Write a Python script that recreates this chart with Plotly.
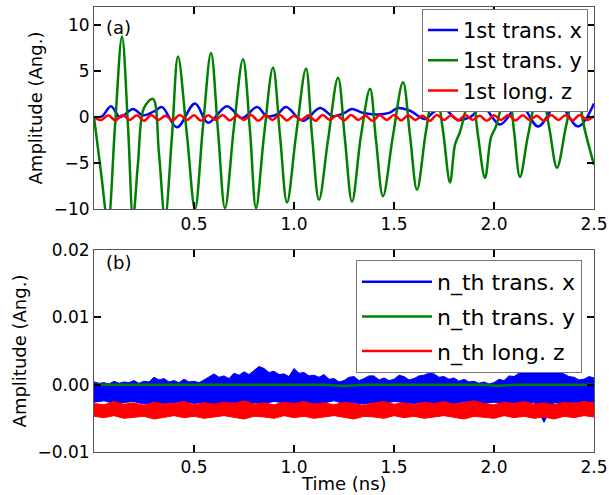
import numpy as np
import plotly.graph_objects as go

# ---------------- panel (a): 1st modes ----------------
green_t = [0.0, 0.035, 0.07, 0.105, 0.14, 0.17, 0.195, 0.22, 0.25, 0.295, 0.325, 0.355,
           0.39, 0.42, 0.465, 0.505, 0.545, 0.585, 0.62, 0.655, 0.70, 0.745, 0.78, 0.81,
           0.85, 0.895, 0.93, 0.965, 1.01, 1.06, 1.09, 1.125, 1.17, 1.22, 1.255, 1.29,
           1.335, 1.38, 1.41, 1.445, 1.495, 1.545, 1.58, 1.615, 1.66, 1.705, 1.745, 1.78,
           1.805, 1.83, 1.855, 1.885, 1.92, 1.955, 1.985, 2.01, 2.04, 2.07, 2.10, 2.13,
           2.17, 2.23, 2.275, 2.315, 2.36, 2.41, 2.45, 2.5]
green_y = [0.0, -6.0, -11.5, -1.0, 8.8, -1.0, -11.0, -5.0, 1.0, 2.0, -4.0, -11.0,
           -2.0, 6.6, -2.0, -10.0, -1.0, 7.0, -1.5, -9.9, -1.0, 6.3, -1.5, -9.9,
           -2.0, 5.4, -2.0, -9.3, -2.0, 5.3, -2.0, -9.0, -2.5, 4.3, -2.5, -9.2,
           -2.0, 3.1, -2.5, -8.6, -2.0, 3.8, -2.0, -7.9, -1.5, 3.5, -1.5, -7.1,
           -3.0, -1.6, 0.5, 3.5, -2.0, -6.6, -2.2, -1.0, 1.5, 3.5, -1.5, -6.5,
           -2.0, 3.5, -1.0, -5.5, -1.0, 3.5, -1.0, -5.2]

blue_t = [0.0, 0.04, 0.085, 0.13, 0.195, 0.245, 0.305, 0.34, 0.415, 0.505, 0.57, 0.665,
          0.74, 0.815, 0.865, 0.915, 0.96, 1.045, 1.13, 1.195, 1.255, 1.29, 1.34, 1.415,
          1.48, 1.52, 1.58, 1.655, 1.695, 1.745, 1.82, 1.88, 1.945, 2.03, 2.13, 2.22,
          2.32, 2.42, 2.5]
blue_y = [0.0, 0.1, 1.2, 0.0, 0.9, 0.2, 0.7, 1.1, -1.1, 1.5, -0.6, 1.2,
          -0.1, 1.1, 0.1, 0.3, 1.1, -0.4, 1.0, 0.1, 0.5, 0.9, 0.5, 0.3,
          0.5, 1.0, 0.7, -0.2, 0.5, 1.0, -0.3, 0.0, 1.1, -0.8, 1.4, -1.0,
          1.5, -1.0, 1.5]

red_y = [0.0, -0.3, 0.2, -0.35, 0.25, -0.3, 0.2, -0.4, 0.25, -0.3, 0.15, -0.35,
         0.25, -0.3, 0.2, -0.4, 0.2, -0.3, 0.25, -0.35, 0.15, -0.3, 0.25, -0.4,
         0.2, -0.3, 0.25, -0.35, 0.15, -0.3, 0.2, -0.4, 0.25, -0.3, 0.2, -0.35,
         0.25, -0.3, 0.15, -0.4, 0.2, -0.3, 0.25, -0.35, 0.2, -0.3, 0.15, -0.4,
         0.25, -0.3, 0.2, -0.35, 0.25, -0.3, 0.15, -0.4, 0.2, -0.3, 0.25, -0.35,
         0.2, -0.3, 0.15, -0.4, 0.25, -0.3, 0.2, -0.35, 0.25, -0.3, 0.1]
red_t = np.linspace(0.0, 2.5, len(red_y))

# ---------------- panel (b): n_th modes (noise envelopes) ----------------
nx_upper = [0.0004, 0.0002, 0.0003, 0.0001, 0.0005, 0.0002, 0.0004, 0.0003, 0.0006, 0.0002,
            0.0005, 0.0004, 0.0011, 0.0007, 0.0009, 0.0004, 0.0006, 0.0003, 0.0008, 0.0004,
            0.0005, 0.0003, 0.0007, 0.0012, 0.0016, 0.0011, 0.0013, 0.0009, 0.0017, 0.0014,
            0.0019, 0.0015, 0.0021, 0.0027, 0.0024, 0.0018, 0.0020, 0.0015, 0.0016, 0.0012,
            0.0024, 0.0017, 0.0018, 0.0013, 0.0014, 0.0011, 0.0015, 0.0008, 0.0009, 0.0004,
            0.0006, 0.0011, 0.0012, 0.0006, 0.0009, 0.0013, 0.0013, 0.0007, 0.0010, 0.0006,
            0.0008, 0.0014, 0.0012, 0.0007, 0.0009, 0.0013, 0.0014, 0.0017, 0.0016, 0.0011,
            0.0012, 0.0008, 0.0010, 0.0005, 0.0008, 0.0004, 0.0005, 0.0002, 0.0004, 0.0001,
            0.0003, 0.0008, 0.0006, 0.0013, 0.0012, 0.0017, 0.0018, 0.0022, 0.0024, 0.0029,
            0.0027, 0.0025, 0.0022, 0.0018, 0.0016, 0.0012, 0.0011, 0.0007, 0.0008, 0.0012,
            0.0010]
nx_upper_t = np.linspace(0.0, 2.5, len(nx_upper))

nx_lower = [-0.0026, -0.0024, -0.0028, -0.0027, -0.0025, -0.0029, -0.0026, -0.0028, -0.0027, -0.0025,
            -0.0028, -0.0026, -0.0029, -0.0027, -0.0026, -0.0050, -0.0027, -0.0028, -0.0025, -0.0027,
            -0.0029, -0.0026, -0.0028, -0.0027, -0.0024, -0.0028, -0.0027, -0.0029, -0.0026, -0.0028,
            -0.0025, -0.0027, -0.0028, -0.0026, -0.0029, -0.0027, -0.0028, -0.0025, -0.0027, -0.0028,
            -0.0026, -0.0029, -0.0027, -0.0028, -0.0026, -0.0056, -0.0027, -0.0028, -0.0026, -0.0027,
            -0.0028]
nx_lower_t = np.linspace(0.0, 2.5, len(nx_lower))

ny_t = [0.0, 1.15, 1.25, 1.35, 1.95, 2.02, 2.10, 2.5]
ny_y = [0.0, 0.0, -0.0002, 0.0, 0.0, -0.0002, 0.0, 0.0]

nz_upper = [-0.0028, -0.0030, -0.0025, -0.0029, -0.0027, -0.0031, -0.0026, -0.0029, -0.0028, -0.0025,
            -0.0030, -0.0027, -0.0029, -0.0026, -0.0028, -0.0024, -0.0029, -0.0027, -0.0030, -0.0026,
            -0.0028, -0.0025, -0.0029, -0.0027, -0.0030, -0.0026, -0.0028, -0.0031, -0.0027, -0.0025,
            -0.0029, -0.0027, -0.0030, -0.0026, -0.0028, -0.0025, -0.0029, -0.0027, -0.0024, -0.0028,
            -0.0030, -0.0026, -0.0028, -0.0025, -0.0029, -0.0027, -0.0030, -0.0026, -0.0028, -0.0025,
            -0.0027]
nz_lower = [-0.0047, -0.0049, -0.0046, -0.0050, -0.0048, -0.0047, -0.0051, -0.0048, -0.0046, -0.0049,
            -0.0047, -0.0050, -0.0048, -0.0046, -0.0049, -0.0051, -0.0047, -0.0048, -0.0050, -0.0046,
            -0.0049, -0.0047, -0.0050, -0.0048, -0.0046, -0.0049, -0.0051, -0.0047, -0.0048, -0.0050,
            -0.0046, -0.0049, -0.0047, -0.0050, -0.0048, -0.0046, -0.0049, -0.0051, -0.0047, -0.0048,
            -0.0050, -0.0046, -0.0049, -0.0047, -0.0050, -0.0048, -0.0051, -0.0047, -0.0049, -0.0046,
            -0.0048]
nz_t = np.linspace(0.0, 2.5, len(nz_upper))

x_ticks = [0.5, 1.0, 1.5, 2.0, 2.5]
top_y_ticks = [-10, -5, 0, 5, 10]
bot_y_ticks = [-0.01, 0.0, 0.01, 0.02]

top_names = ["1st trans. x", "1st trans. y", "1st long. z"]
bot_names = ["n_th trans. x", "n_th trans. y", "n_th long. z"]

BLUE, GREEN, RED = "#0000ff", "#008000", "#ff0000"
FONT = "DejaVu Sans"

fig = go.Figure()

# panel (a)
fig.add_trace(go.Scatter(x=blue_t, y=blue_y, mode="lines", name=top_names[0],
                         line=dict(color=BLUE, width=2.5, shape="spline"),
                         xaxis="x", yaxis="y", legend="legend"))
fig.add_trace(go.Scatter(x=green_t, y=green_y, mode="lines", name=top_names[1],
                         line=dict(color=GREEN, width=2.5, shape="spline"),
                         xaxis="x", yaxis="y", legend="legend"))
fig.add_trace(go.Scatter(x=red_t, y=red_y, mode="lines", name=top_names[2],
                         line=dict(color=RED, width=2.5, shape="spline"),
                         xaxis="x", yaxis="y", legend="legend"))

# panel (b) bands
def band(tu, up, tl, lo):
    xs = list(tu) + list(tl)[::-1]
    ys = list(up) + list(lo)[::-1]
    return xs, ys

bx, by = band(nx_upper_t, nx_upper, nx_lower_t, nx_lower)
fig.add_trace(go.Scatter(x=bx, y=by, mode="lines", fill="toself", fillcolor=BLUE,
                         line=dict(color=BLUE, width=1), showlegend=False,
                         xaxis="x2", yaxis="y2", hoverinfo="skip"))
fig.add_trace(go.Scatter(x=ny_t, y=ny_y, mode="lines", showlegend=False,
                         line=dict(color=GREEN, width=2.5),
                         xaxis="x2", yaxis="y2"))
rx, ry = band(nz_t, nz_upper, nz_t, nz_lower)
fig.add_trace(go.Scatter(x=rx, y=ry, mode="lines", fill="toself", fillcolor=RED,
                         line=dict(color=RED, width=1), showlegend=False,
                         xaxis="x2", yaxis="y2", hoverinfo="skip"))

# legend entries for panel (b)
for nm, col, grp in zip(bot_names, [BLUE, GREEN, RED], ["g1", "g2", "g3"]):
    fig.add_trace(go.Scatter(x=[None], y=[None], mode="lines", name=nm,
                             line=dict(color=col, width=2.5), legendgroup=grp,
                             xaxis="x2", yaxis="y2", legend="legend2"))

axis_common = dict(showline=True, linecolor="#555555", linewidth=1, mirror="ticks",
                   ticks="inside", ticklen=7, tickwidth=1.5, tickcolor="black",
                   showgrid=False, zeroline=False, automargin=False,
                   tickfont=dict(family=FONT, size=17, color="black"))

fig.update_layout(
    width=609, height=495,
    margin=dict(l=94, r=15, t=7, b=43, autoexpand=False),
    paper_bgcolor="white", plot_bgcolor="white",
    font=dict(family=FONT, size=17, color="black"),
    xaxis=dict(domain=[0, 1], anchor="y", range=[0, 2.5], tickvals=x_ticks,
               tickformat=".1f", **axis_common),
    yaxis=dict(domain=[0.546, 1], anchor="x", range=[-10, 12], tickvals=top_y_ticks,
               title=dict(text="Amplitude (Ang.)", font=dict(family=FONT, size=18, color="black"),
                          standoff=6),
               **axis_common),
    xaxis2=dict(domain=[0, 1], anchor="y2", range=[0, 2.5], tickvals=x_ticks,
                tickformat=".1f", **axis_common),
    yaxis2=dict(domain=[0, 0.454], anchor="x2", range=[-0.01, 0.02], tickvals=bot_y_ticks,
                tickformat=".2f",
                title=dict(text="Amplitude (Ang.)", font=dict(family=FONT, size=18, color="black"),
                           standoff=6),
                **axis_common),
    legend=dict(x=0.988, y=0.996, xanchor="right", yanchor="top",
                bgcolor="white", bordercolor="#777777", borderwidth=1,
                font=dict(family=FONT, size=21, color="black"),
                itemwidth=30, tracegroupgap=0),
    legend2=dict(x=0.976, y=0.4315, xanchor="right", yanchor="top",
                 bgcolor="white", bordercolor="#777777", borderwidth=1,
                 font=dict(family=FONT, size=22, color="black"),
                 traceorder="grouped", tracegroupgap=3, itemwidth=70),
    annotations=[
        dict(text="(a)", xref="x domain", yref="y domain", x=0.02, y=0.90,
             xanchor="left", yanchor="middle", showarrow=False,
             font=dict(family=FONT, size=18, color="black")),
        dict(text="(b)", xref="x2 domain", yref="y2 domain", x=0.02, y=0.936,
             xanchor="left", yanchor="middle", showarrow=False,
             font=dict(family=FONT, size=18, color="black")),
        dict(text="Time (ns)", xref="paper", yref="paper", x=0.5, y=-0.0697,
             xanchor="center", yanchor="middle", showarrow=False,
             font=dict(family=FONT, size=18, color="black")),
    ],
)

fig.write_html("out.html", config={"displayModeBar": False},
               post_script="document.body.style.margin='0px';")
